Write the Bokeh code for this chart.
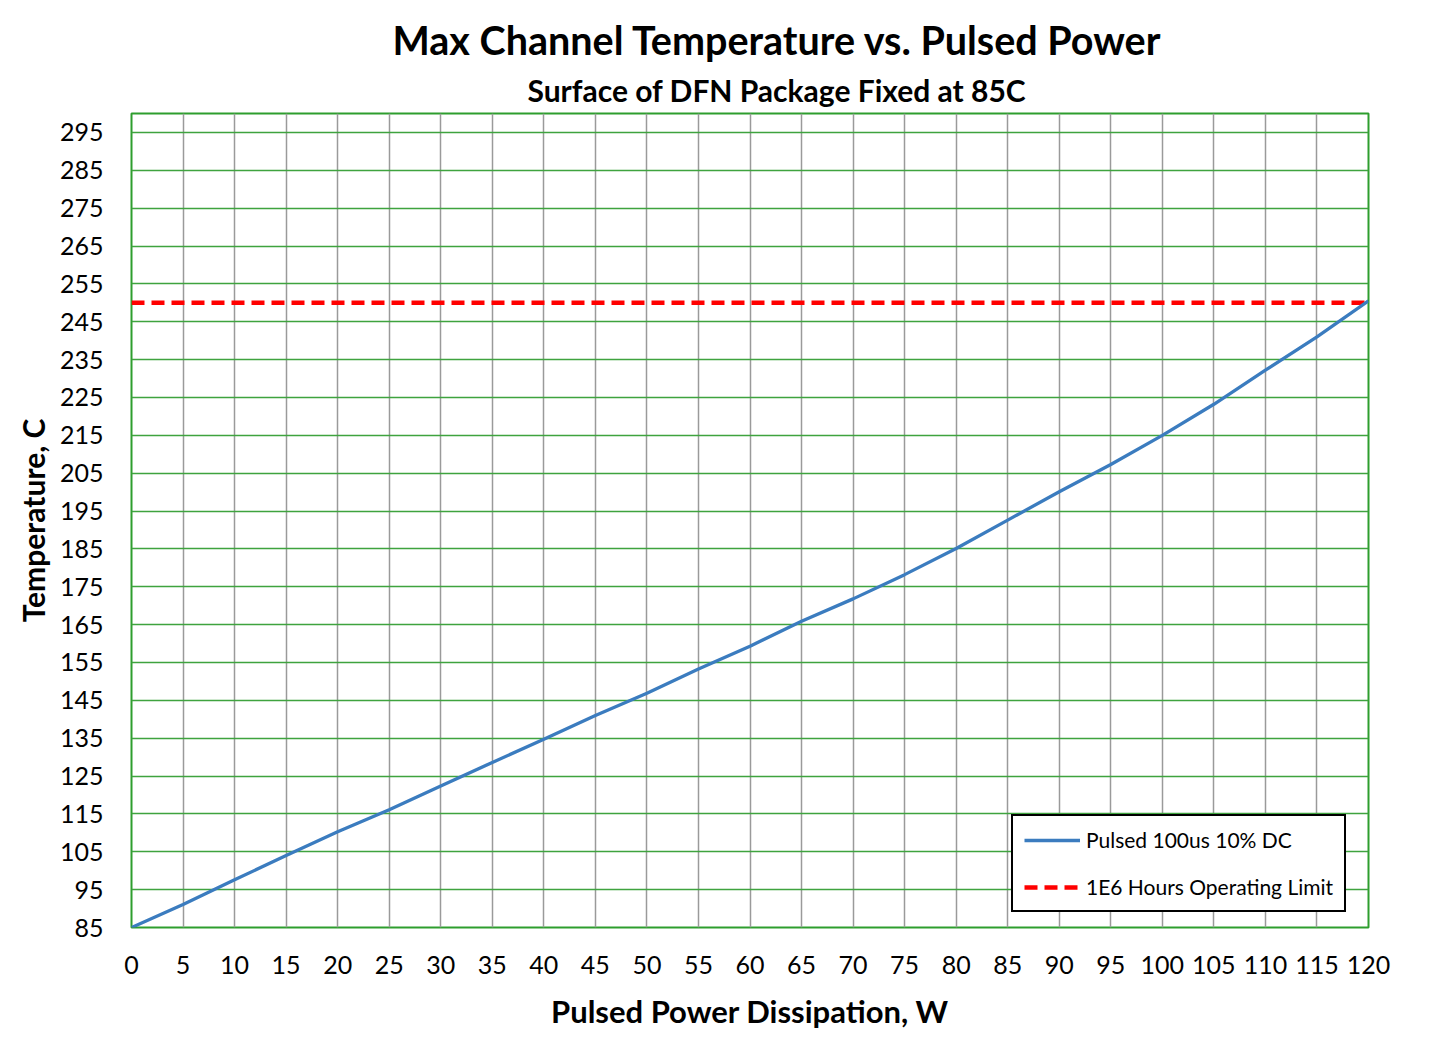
from bokeh.plotting import figure
from bokeh.models import (Range1d, FixedTicker, Legend, LegendItem, Title)
from bokeh.embed import file_html
from bokeh.resources import INLINE

# ---- data ----
power_w = [0, 5, 10, 15, 20, 25, 30, 35, 40, 45, 50, 55, 60,
           65, 70, 75, 80, 85, 90, 95, 100, 105, 110, 115, 120]
temp_c = [85, 91.1, 97.6, 104.0, 110.3, 116.1, 122.4, 128.6, 134.7, 141.0,
          146.9, 153.3, 159.3, 165.9, 171.8, 178.2, 185.1, 192.6, 200.1,
          207.3, 215.0, 223.2, 232.2, 241.0, 250.5]
limit_x = [0, 120]
limit_y = [250, 250]
x_ticks = [0, 5, 10, 15, 20, 25, 30, 35, 40, 45, 50, 55, 60, 65, 70, 75,
           80, 85, 90, 95, 100, 105, 110, 115, 120]
y_ticks = [85, 95, 105, 115, 125, 135, 145, 155, 165, 175, 185, 195, 205,
           215, 225, 235, 245, 255, 265, 275, 285, 295]

title_text = "Max Channel Temperature vs. Pulsed Power"
subtitle_text = "Surface of DFN Package Fixed at 85C"
x_label = "Pulsed Power Dissipation, W"
y_label = "Temperature, C"
series_label = "Pulsed 100us 10% DC"
limit_label = "1E6 Hours Operating Limit"

FONT = "Lato"

p = figure(output_backend="svg", toolbar_location=None,
           frame_width=1237, frame_height=814,
           min_border_left=131, min_border_right=68,
           min_border_top=113, min_border_bottom=100,
           x_range=Range1d(0, 120), y_range=Range1d(85, 300),
           background_fill_color="white", border_fill_color="white")

p.outline_line_color = "#2E9E2E"
p.outline_line_width = 2

# axes
for ax in (p.xaxis[0], p.yaxis[0]):
    ax.axis_line_color = None
    ax.major_tick_line_color = None
    ax.minor_tick_line_color = None
    ax.major_label_text_font = FONT
    ax.major_label_text_font_size = "25px"
    ax.major_label_text_color = "black"
    ax.axis_label_text_font = FONT
    ax.axis_label_text_font_style = "bold"
    ax.axis_label_text_color = "black"

p.xaxis.axis_label_text_font_size = "31px"
p.yaxis.axis_label_text_font_size = "30px"
p.xaxis.ticker = FixedTicker(ticks=x_ticks)
p.yaxis.ticker = FixedTicker(ticks=y_ticks)
p.xaxis.major_label_standoff = 22
p.yaxis.major_label_standoff = 22
p.xaxis.axis_label = x_label
p.yaxis.axis_label = y_label
p.xaxis.axis_label_standoff = 15
p.yaxis.axis_label_standoff = 6

# grids
p.xgrid.grid_line_color = "#9A9A9A"
p.xgrid.grid_line_width = 1.5
p.ygrid.grid_line_color = "#3FA33F"
p.ygrid.grid_line_width = 1.5

# lines
red = p.line(limit_x, limit_y, line_color="#FF0000", line_width=4.5,
             line_dash="13 7")
blue = p.line(power_w, temp_c, line_color="#3B7CBF", line_width=3.3)

legend = Legend(items=[LegendItem(label=series_label, renderers=[blue]),
                       LegendItem(label=limit_label, renderers=[red])],
                location=(880, 15))
legend.label_text_font = FONT
legend.label_text_font_size = "21px"
legend.label_text_color = "black"
legend.border_line_color = "black"
legend.border_line_alpha = 1
legend.border_line_width = 2
legend.background_fill_color = "white"
legend.background_fill_alpha = 1
legend.padding = 11
legend.spacing = 22
legend.glyph_width = 56
legend.glyph_height = 20
legend.label_height = 20
legend.label_standoff = 6
legend.margin = 0
p.add_layout(legend)

# titles (subtitle first = closest to the plot)
p.add_layout(Title(text=subtitle_text, align="left", offset=396,
                   text_font=FONT, text_font_style="bold",
                   text_font_size="30px", text_color="black",
                   standoff=12), "above")
p.add_layout(Title(text=title_text, align="left", offset=261,
                   text_font=FONT, text_font_style="bold",
                   text_font_size="39.5px", text_color="black",
                   standoff=2), "above")

open("out.html", "w").write(file_html(p, INLINE))
